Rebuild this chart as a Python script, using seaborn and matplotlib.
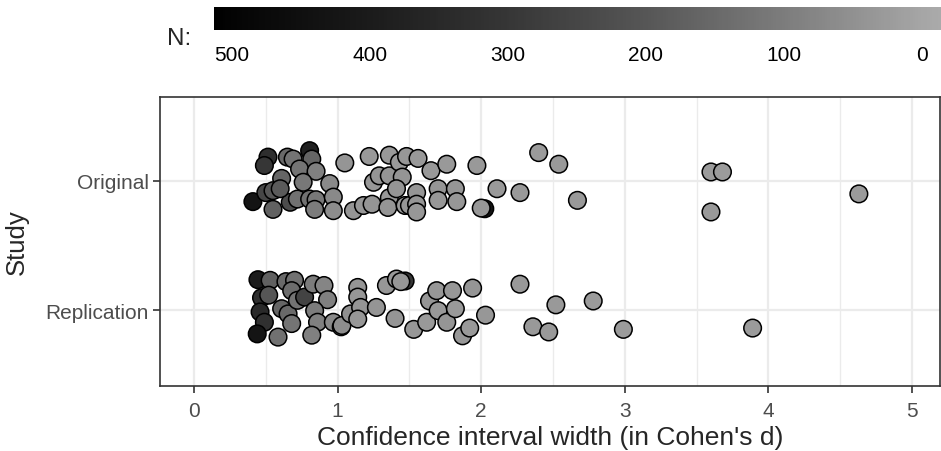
import numpy as np
import pandas as pd
import matplotlib
matplotlib.use("Agg")
import matplotlib.pyplot as plt
import seaborn as sns
from matplotlib.colors import LinearSegmentedColormap, Normalize
from matplotlib.cm import ScalarMappable

# values
orig_width = [0.41, 0.515, 0.49, 0.50, 0.55, 0.55, 0.61, 0.65, 0.69, 0.67, 0.72, 0.805,
              0.82, 0.735, 0.85, 0.76, 0.805, 0.85, 0.84, 0.945, 0.97, 0.97, 0.60,
              1.05, 1.11, 1.18, 1.22, 1.24, 1.25, 1.29, 1.36, 1.36, 1.36, 1.35, 1.43,
              1.45, 1.48, 1.41, 1.47, 1.50, 1.55, 1.56, 1.55, 1.55, 1.65, 1.70, 1.70,
              1.76, 1.82, 1.83, 1.97, 2.025, 2.00, 2.11, 2.27, 2.40, 2.54, 2.67, 3.60,
              3.68, 3.60, 4.63]
orig_jitter = [0.16, -0.185, -0.12, 0.09, 0.075, 0.22, -0.02, -0.185, -0.17, 0.165, 0.14, -0.235,
               -0.17, -0.093, -0.075, 0.01, 0.14, 0.145, 0.22, 0.02, 0.125, 0.23, 0.06,
               -0.14, 0.23, 0.19, -0.19, 0.18, 0.01, -0.04, -0.2, -0.04, 0.13, 0.205, -0.145,
               -0.03, -0.19, 0.06, 0.19, 0.19, 0.09, -0.175, 0.18, 0.24, -0.08, 0.06, 0.15,
               -0.13, 0.06, 0.16, -0.12, 0.215, 0.21, 0.06, 0.09, -0.22, -0.13, 0.15, -0.07,
               -0.07, 0.24, 0.10]
orig_n = [430, 330, 300, 250, 200, 170, 160, 150, 120, 230, 130, 380,
          160, 120, 90, 110, 130, 110, 100, 70, 70, 60, 190,
          40, 40, 35, 30, 40, 35, 40, 30, 40, 35, 40, 30,
          40, 35, 40, 30, 35, 40, 30, 40, 35, 30, 40, 35,
          30, 40, 35, 30, 430, 35, 30, 30, 25, 30, 30, 25,
          25, 30, 25]

rep_width = [0.445, 0.53, 0.47, 0.52, 0.46, 0.49, 0.44, 0.585, 0.61, 0.655, 0.68, 0.64,
             0.70, 0.68, 0.72, 0.77, 0.83, 0.905, 0.93, 0.84, 0.86, 0.82, 0.97, 1.025,
             1.03, 1.09, 1.14, 1.14, 1.16, 1.14, 1.27, 1.34, 1.47, 1.41, 1.44, 1.40,
             1.53, 1.62, 1.64, 1.69, 1.70, 1.76, 1.80, 1.82, 1.94, 1.87, 1.92, 2.03,
             2.27, 2.52, 2.78, 2.36, 2.47, 2.99, 3.89]
rep_jitter = [-0.235, -0.23, -0.095, -0.115, 0.015, 0.095, 0.185, 0.21, -0.01, 0.03, 0.105, -0.22,
              -0.23, -0.15, -0.075, -0.10, -0.2, -0.19, -0.08, 0.005, 0.095, 0.195, 0.095, 0.13,
              0.12, 0.03, -0.175, -0.10, -0.02, 0.07, -0.02, -0.19, -0.225, -0.24, -0.22, 0.065,
              0.15, 0.095, -0.07, -0.15, 0.005, 0.095, -0.15, -0.01, -0.17, 0.20, 0.14, 0.04,
              -0.2, -0.04, -0.07, 0.13, 0.17, 0.15, 0.14]
rep_n = [400, 170, 330, 200, 350, 320, 430, 130, 160, 150, 120, 150,
         130, 140, 120, 260, 100, 80, 90, 100, 90, 90, 70, 60,
         60, 50, 40, 35, 40, 35, 40, 35, 300, 30, 35, 40,
         35, 30, 40, 35, 30, 40, 35, 30, 40, 35, 30, 35,
         30, 30, 25, 30, 30, 25, 25]

studies = ["Original", "Replication"]
n_ticks = [500, 400, 300, 200, 100, 0]

df = pd.concat([
    pd.DataFrame({"width": orig_width, "pos": np.array(orig_jitter), "N": orig_n}),
    pd.DataFrame({"width": rep_width, "pos": 1 + np.array(rep_jitter), "N": rep_n}),
], ignore_index=True)

# grey gradient, dark for large N
n_min, n_max = -14, 513
stops = [(-14, "#aaaaaa"), (0, "#a5a5a5"), (100, "#7c7c7c"), (200, "#565656"),
         (300, "#363636"), (400, "#1b1b1b"), (500, "#040404"), (513, "#000000")]
cmap = LinearSegmentedColormap.from_list(
    "ngrey", [((v - n_min) / (n_max - n_min), c) for v, c in stops])

sns.set_theme(style="white")
plt.rcParams["font.family"] = ["Liberation Sans", "DejaVu Sans"]

fig = plt.figure(figsize=(9.41, 4.52), dpi=100)
ax = fig.add_axes([160 / 941, 65 / 452, 780 / 941, 289 / 452])

sns.scatterplot(data=df, x="width", y="pos", hue="N", palette=cmap,
                hue_norm=(n_min, n_max), s=160, edgecolor="black",
                linewidth=1.1, legend=False, ax=ax, zorder=3)

ax.set_xlim(-0.237, 5.195)
ax.set_ylim(1.589, -0.651)
ax.set_xticks(range(6))
ax.set_xticks(np.arange(0.5, 5.5, 1.0), minor=True)
ax.set_yticks([0, 1])
ax.set_yticklabels(studies)
ax.grid(True, which="major", color="#ebebeb", linewidth=1.6, zorder=0)
ax.grid(True, which="minor", axis="x", color="#ebebeb", linewidth=1.0, zorder=0)
ax.set_axisbelow(True)
for sp in ax.spines.values():
    sp.set_color("#333333")
    sp.set_linewidth(1.2)
ax.tick_params(axis="both", which="major", length=5, width=1.2, color="#333333",
               labelsize=15, labelcolor="#4d4d4d", left=True, bottom=True)
ax.tick_params(axis="y", which="major", pad=3)
ax.tick_params(axis="x", which="major", pad=6)
ax.tick_params(axis="x", which="minor", length=0)
ax.set_xlabel("Confidence interval width (in Cohen's d)", fontsize=19)
ax.set_ylabel("Study", fontsize=18.5)
ax.xaxis.set_label_coords(0.5, -0.176)
ax.xaxis.label.set_va("center")
ax.yaxis.set_label_coords(-0.183, 0.5)
ax.yaxis.label.set_va("center")

# colour bar on top
cax = fig.add_axes([214 / 941, (452 - 31) / 452, 727 / 941, 23 / 452])
sm = ScalarMappable(norm=Normalize(n_min, n_max), cmap=cmap)
cb = fig.colorbar(sm, cax=cax, orientation="horizontal")
cb.outline.set_visible(False)
cax.set_xlim(n_max, n_min)
cb.set_ticks(n_ticks)
cax.tick_params(axis="x", which="both", direction="in", top=True, bottom=True,
                color="white", length=4, width=1, labelsize=15, labelcolor="black", pad=11)
cax.minorticks_off()
fig.text(179 / 941, 1 - 39 / 452, "N:", fontsize=17.5, ha="center", va="center")

fig.savefig("out.png", dpi=100)
